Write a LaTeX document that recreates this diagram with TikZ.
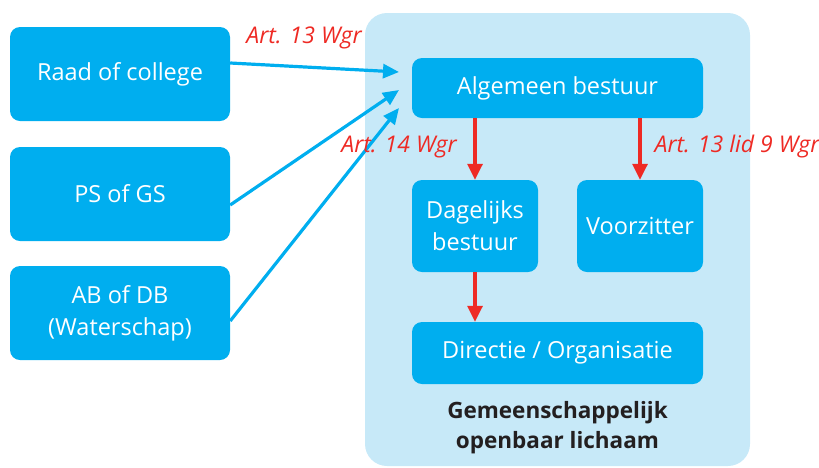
\documentclass[tikz,border=0pt]{standalone}
\usepackage{fontspec}
\setmainfont{Open Sans}
\usepackage{tikz}
\usetikzlibrary{arrows.meta}

\definecolor{lichaam}{HTML}{C7E9F8}
\definecolor{blok}{HTML}{00AEEF}
\definecolor{wgr}{HTML}{EE2A24}
\definecolor{tekst}{HTML}{231F20}

\tikzset{
  blok/.style={fill=blok,text=white,rounded corners=10pt,align=center,
    font=\fontsize{23.5}{32}\selectfont,inner sep=0pt},
  aanwijs/.style={draw=blok,line width=3.2pt,-{Triangle[length=16pt,width=14pt]}},
  artikel/.style={draw=wgr,line width=3.2pt,-{Triangle[length=16pt,width=15pt]}},
  wgrtekst/.style={text=wgr,font=\fontsize{23}{27}\itshape\selectfont}
}

\begin{document}
\begin{tikzpicture}[x=1pt,y=-1pt]
	\useasboundingbox (0,0) rectangle (819,467);
	\fill[lichaam,rounded corners=22pt] (365,13) rectangle (750,466);
	
	% links
	\node[blok,minimum width=220pt,minimum height=94pt] (raad) at (120,74) {Raad of college};
	\node[blok,minimum width=220pt,minimum height=94pt] (ps) at (120,194) {PS of GS};
	\node[blok,minimum width=220pt,minimum height=94pt] (ab) at (120,313) {AB of DB\\(Waterschap)};
	
	% orgaan
	\node[blok,minimum width=291pt,minimum height=60pt] (alg) at (557.5,88) {Algemeen bestuur};
	\node[blok,minimum width=126pt,minimum height=92pt] (dag) at (475,226) {Dagelijks\\bestuur};
	\node[blok,minimum width=126pt,minimum height=92pt] (voor) at (640,226) {Voorzitter};
	\node[blok,minimum width=291pt,minimum height=62pt] (dir) at (557.5,353) {Directie / Organisatie};
	
	\node[align=center,text=tekst,font=\fontsize{22.5}{30}\bfseries\selectfont] (gol) at (557.5,428) {Gemeenschappelijk\\openbaar lichaam};
	
	\coordinate (p1) at (399,72);
	\coordinate (p2) at (399,90);
	\coordinate (p3) at (399,108);
	\draw[aanwijs] (raad.east |- 0,63) -- (p1);
	\draw[aanwijs] (ps.east |- 0,205) -- (p2);
	\draw[aanwijs] (ab.east |- 0,321) -- (p3);
	
	\draw[artikel] (alg.south -| dag.north) -- (dag.north);
	\draw[artikel] (alg.south -| voor.north) -- (voor.north);
	\draw[artikel] (dag.south) -- (dir.north -| dag.south);
	
	\node[wgrtekst] (a13) at (304,38) {Art. 13 Wgr};
	\node[wgrtekst] (a14) at (399,147) {Art. 14 Wgr};
	\node[wgrtekst] (a139) at (737,147) {Art. 13 lid 9 Wgr};
\end{tikzpicture}
\end{document}
